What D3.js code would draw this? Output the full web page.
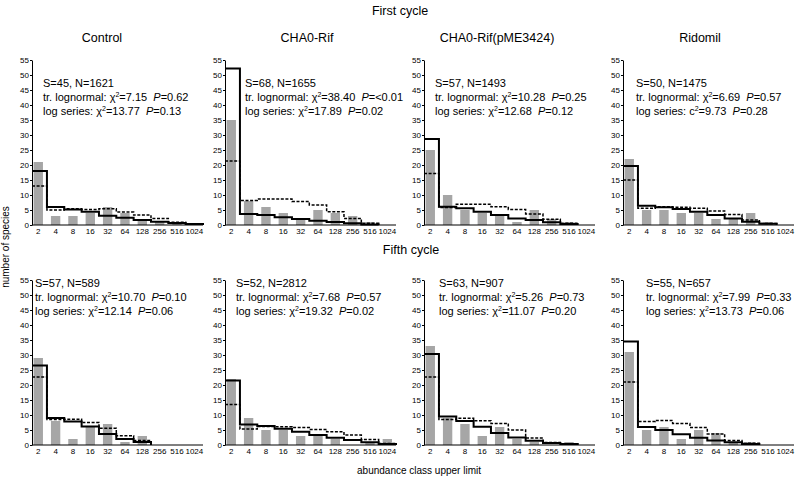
<!DOCTYPE html>
<html>
<head>
<meta charset="utf-8">
<script src="https://cdn.jsdelivr.net/npm/d3@7"></script>
<style>
body{margin:0;background:#fff;}
svg{font-family:Arial,"Liberation Sans",sans-serif;display:block;}
text{white-space:pre;}
</style>
</head>
<body>
<script>
// abundance classes (octaves) and panel labels
var classes = ["2","4","8","16","32","64","128","256","516","1024"];
var treatments = ["Control","CHA0-Rif","CHA0-Rif(pME3424)","Ridomil"];
var cycles = ["First cycle","Fifth cycle"];

// observed number of species per class, panels row by row
var observed = [
	[21,3,3,4,6,4,2,1,1,0],
	[35,8,6,4,2,5,4,3,1,0],
	[25,10,5,4,3,1,5,2,1,0],
	[22,5,5,4,4,2,2,4,1,0],
	[29,8,2,6,7,1,3,0,0,0],
	[22,9,5,5,3,3,2,0,1,2],
	[33,9,7,3,6,2,1,0,1,0],
	[31,5,6,2,5,4,1,1,0,0]
];
// truncated lognormal fit (solid)
var lognormalFit = [
	[18,6,5.2,4.4,3.1,2.4,1.7,1.1,0.7,0.3],
	[52.2,3.7,3.3,2.6,2.0,1.4,1.0,0.6,0.2,null],
	[28.7,6.1,5.6,4.4,3.3,2.2,1.7,0.9,0.3,null],
	[19.7,6.4,5.9,5.3,4.4,3.3,2.2,1.1,0.4,null],
	[26.5,9,7.8,6.2,3.7,2,1,null,null,null],
	[21.5,6.8,6.3,5.4,4.4,3.3,2.4,1.7,0.9,0.3],
	[30.3,9.5,8,6.1,4,2.5,1.4,0.7,0.3,null],
	[34.5,6,5,3.6,2.4,1.5,0.9,0.3,null,null]
];
// log series fit (dashed)
var logSeriesFit = [
	[13,5,5.4,5.2,5.4,4.3,3.3,2.2,0.9,0.3],
	[21.3,8.2,8.7,8.7,7.8,6.7,4.4,2.2,0.6,null],
	[17.2,5.8,6.9,6.9,6.1,5.2,3.7,1.9,0.6,null],
	[15,5.6,6.1,5.9,5.6,4.7,3.5,1.7,0.5,null],
	[22.7,8.5,8.6,7.5,5.6,3.1,1.5,null,null,null],
	[13.5,5.3,6.2,6.1,5.8,5.2,4.4,3.3,1.8,0.5],
	[22.7,8.5,8.9,8.1,7.2,5,2.3,0.8,0.3,null],
	[21,7.8,8.2,7.2,5.8,3.7,1.5,0.6,null,null]
];
// fit statistics
var speciesS = [45,68,57,50,57,52,63,55];
var individualsN = [1621,1655,1493,1475,589,2812,907,657];
var lognormalChi = ["7.15","38.40","10.28","6.69","10.70","7.68","5.26","7.99"];
var lognormalP = ["0.62","<0.01","0.25","0.57","0.10","0.57","0.73","0.33"];
var logSeriesSym = ["χ","χ","χ","c","χ","χ","χ","χ"];
var logSeriesChi = ["13.77","17.89","12.68","9.73","12.14","19.32","11.07","13.73"];
var logSeriesP = ["0.13","0.02","0.12","0.28","0.06","0.02","0.20","0.06"];
var yTicks = [0,5,10,15,20,25,30,35,40,45,50,55];

// layout
var W = 800, H = 482;
var panelX = [32,225,424,623];
var rowBase = [225,445];
var plotH = 165, plotW = 171;
var titleX = [102,307,497,700];
var noteDx = [11,20,11,13,3,11,15,23];
var noteY = [86.5,287];

var svg = d3.select("body").append("svg").attr("width",W).attr("height",H);

svg.append("text").attr("x",400).attr("y",15).attr("text-anchor","middle")
	.attr("font-size",12.5).text(cycles[0]);
svg.append("text").attr("x",411).attr("y",254).attr("text-anchor","middle")
	.attr("font-size",12.5).text(cycles[1]);
treatments.forEach(function(t,i){
	svg.append("text").attr("x",titleX[i]).attr("y",42).attr("text-anchor","middle")
		.attr("font-size",12.5).text(t);
});
svg.append("text").attr("transform","translate(9,247) rotate(-90)")
	.attr("text-anchor","middle").attr("font-size",10).text("number of species");
svg.append("text").attr("x",419).attr("y",474).attr("text-anchor","middle")
	.attr("font-size",10).text("abundance class upper limit");

var y = d3.scaleLinear().domain([0,55]).range([plotH,0]);
var x = d3.scaleBand().domain(classes).range([-2.4,plotW]).paddingInner(0.46).paddingOuter(0.23);

function cellStart(c){ return x(c) - (x.step()-x.bandwidth())/2; }

function stepPoints(vals){
	var pts = [];
	var last = -1;
	vals.forEach(function(v,i){
		if(v==null) return;
		pts.push([Math.max(0,cellStart(classes[i])), v]);
		last = i;
	});
	var end = cellStart(classes[last]) + x.step();
	pts.push([end, vals[last]]);
	pts.push([end, 0]);
	return pts;
}
var stepLine = d3.line().x(function(d){return d[0];}).y(function(d){return y(d[1]);}).curve(d3.curveStepAfter);

for(var r=0;r<2;r++){
	for(var c=0;c<4;c++){
		var k = r*4+c;
		var g = svg.append("g").attr("transform","translate("+panelX[c]+","+(rowBase[r]-plotH)+")");

		//bars
		g.selectAll("rect").data(observed[k]).enter().append("rect")
			.attr("x",function(d,i){return x(classes[i]);})
			.attr("width",x.bandwidth())
			.attr("y",function(d){return y(d);})
			.attr("height",function(d){return plotH-y(d);})
			.attr("fill","#a6a6a6");

		g.append("path").attr("d",stepLine(stepPoints(logSeriesFit[k])))
			.attr("fill","none").attr("stroke","#000").attr("stroke-width",1.5)
			.attr("stroke-dasharray","3,1.6");
		g.append("path").attr("d",stepLine(stepPoints(lognormalFit[k])))
			.attr("fill","none").attr("stroke","#000").attr("stroke-width",2);

		var ya = g.append("g").call(d3.axisLeft(y).tickValues(yTicks).tickSize(2).tickSizeOuter(0).tickPadding(1));
		ya.selectAll("text").attr("font-size",8).attr("font-family",null);
		ya.select(".domain").attr("stroke-width",1);

		var xa = g.append("g").attr("transform","translate(0,"+plotH+")")
			.call(d3.axisBottom(x).tickSize(0).tickPadding(3));
		xa.select(".domain").remove();
		xa.selectAll("text").attr("font-size",8).attr("font-family",null);
		g.append("line").attr("x1",0).attr("x2",plotW).attr("y1",plotH).attr("y2",plotH)
			.attr("stroke","#000");

		// fit notes
		var tx = panelX[c] + noteDx[k], ty = noteY[r];
		svg.append("text").attr("x",tx).attr("y",ty).attr("font-size",11)
			.text("S="+speciesS[k]+", N="+individualsN[k]);
		var t2 = svg.append("text").attr("x",tx).attr("y",ty+14).attr("font-size",11);
		t2.append("tspan").text("tr. lognormal: χ");
		t2.append("tspan").attr("dy",-4).attr("font-size",7).text("2");
		t2.append("tspan").attr("dy",4).text("="+lognormalChi[k]+"  ");
		t2.append("tspan").attr("font-style","italic").text("P");
		t2.append("tspan").text("="+lognormalP[k]);
		var t3 = svg.append("text").attr("x",tx).attr("y",ty+28).attr("font-size",11);
		t3.append("tspan").text("log series: "+logSeriesSym[k]);
		t3.append("tspan").attr("dy",-4).attr("font-size",7).text("2");
		t3.append("tspan").attr("dy",4).text("="+logSeriesChi[k]+"  ");
		t3.append("tspan").attr("font-style","italic").text("P");
		t3.append("tspan").text("="+logSeriesP[k]);
	}
}
</script>
</body>
</html>
